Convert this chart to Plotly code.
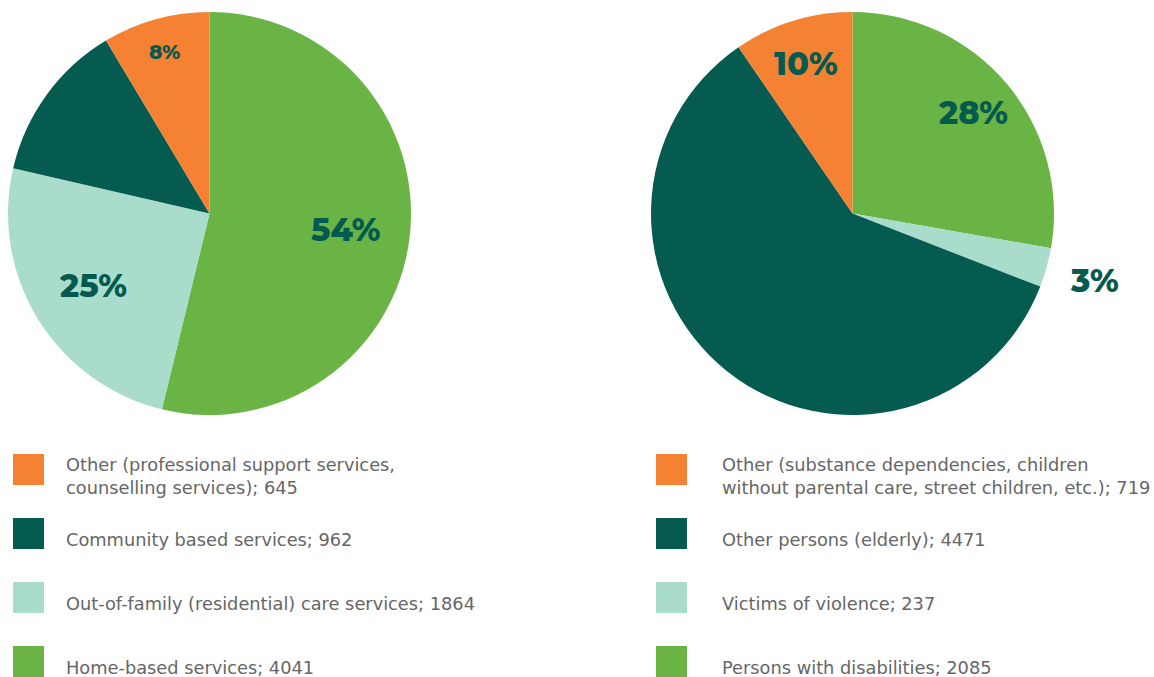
import math
import plotly.graph_objects as go

# ---- data ----
left_labels = ["Other (professional support services,<br>counselling services); 645",
               "Community based services; 962",
               "Out-of-family (residential) care services; 1864",
               "Home-based services; 4041"]
left_values = [645, 962, 1864, 4041]
left_text = ["8%", "", "25%", "54%"]

right_labels = ["Other (substance dependencies, children<br>without parental care, street children, etc.); 719",
                "Other persons (elderly); 4471",
                "Victims of violence; 237",
                "Persons with disabilities; 2085"]
right_values = [719, 4471, 237, 2085]
right_text = ["10%", "", "3%", "28%"]

colors = ["#F58232", "#055B50", "#AADCCB", "#6AB445"]
TXT = "#055A4F"
W, H = 1154, 677
R = 201.5
CY = 213.5

# label styling: radial position (fraction of radius) and font size per slice
left_lab_r = [0.83, 0, 0.68, 0.68]
left_lab_size = [20, 0, 32, 32]
right_lab_r = [0.78, 0, 1.245, 0.78]
right_lab_size = [32, 0, 32, 32]

def rev(a):
    return list(reversed(a))

fig = go.Figure()
dom_y = [1 - (CY + R) / H, 1 - (CY - R) / H]

annotations = []

def add_pie(values, labels, texts, cx, lab_r, lab_size):
    half = 300
    fig.add_trace(go.Pie(
        values=rev(values), labels=rev(labels),
        marker=dict(colors=rev(colors), line=dict(width=0)),
        sort=False, direction="clockwise", rotation=0,
        textinfo="none",
        domain=dict(x=[max(0, cx - half) / W, min(W, cx + half) / W] if cx - half >= 0
                    else [0, 2 * cx / W], y=dom_y),
        showlegend=False, hoverinfo="label+percent",
    ))
    # percentage labels placed at slice mid-angles (clockwise from top, drawn in reversed order)
    total = sum(values)
    cum = 0
    for v, t, rf, sz in zip(rev(values), rev(texts), rev(lab_r), rev(lab_size)):
        mid = (cum + v / 2) / total * 2 * math.pi
        cum += v
        if not t:
            continue
        x = cx + rf * R * math.sin(mid)
        y = CY - rf * R * math.cos(mid)
        annotations.append(dict(text=t, xref="paper", yref="paper",
                                x=x / W, y=1 - y / H, xanchor="center", yanchor="middle",
                                showarrow=False,
                                font=dict(family="Montserrat, Inter, Open Sans, sans-serif",
                                          size=sz, color=TXT, weight=800)))

add_pie(left_values, left_labels, left_text, 209.5, left_lab_r, left_lab_size)
add_pie(right_values, right_labels, right_text, 852.5, right_lab_r, right_lab_size)

# ---- custom legends ----
shapes = []
sq = 31
row_top = [454, 518, 582, 646]
for col_x, text_x, labels in [(13, 64, left_labels), (656, 720, right_labels)]:
    for i, lab in enumerate(labels):
        y0 = row_top[i]
        shapes.append(dict(type="rect", xref="paper", yref="paper",
                           x0=col_x / W, x1=(col_x + sq) / W,
                           y0=1 - (y0 + sq) / H, y1=1 - y0 / H,
                           fillcolor=colors[i], line=dict(width=0)))
        annotations.append(dict(text=lab, xref="paper", yref="paper",
                                x=text_x / W, y=1 - (y0 + sq / 2 + 6) / H,
                                xanchor="left", yanchor="middle", align="left",
                                showarrow=False,
                                font=dict(family="DejaVu Sans, sans-serif", size=17.8, color="#666666")))

fig.update_layout(width=W, height=H, autosize=False, showlegend=False,
                  margin=dict(l=0, r=0, t=0, b=0, pad=0, autoexpand=False),
                  paper_bgcolor="white", plot_bgcolor="white",
                  shapes=shapes, annotations=annotations)

fig.write_html("out.html")
